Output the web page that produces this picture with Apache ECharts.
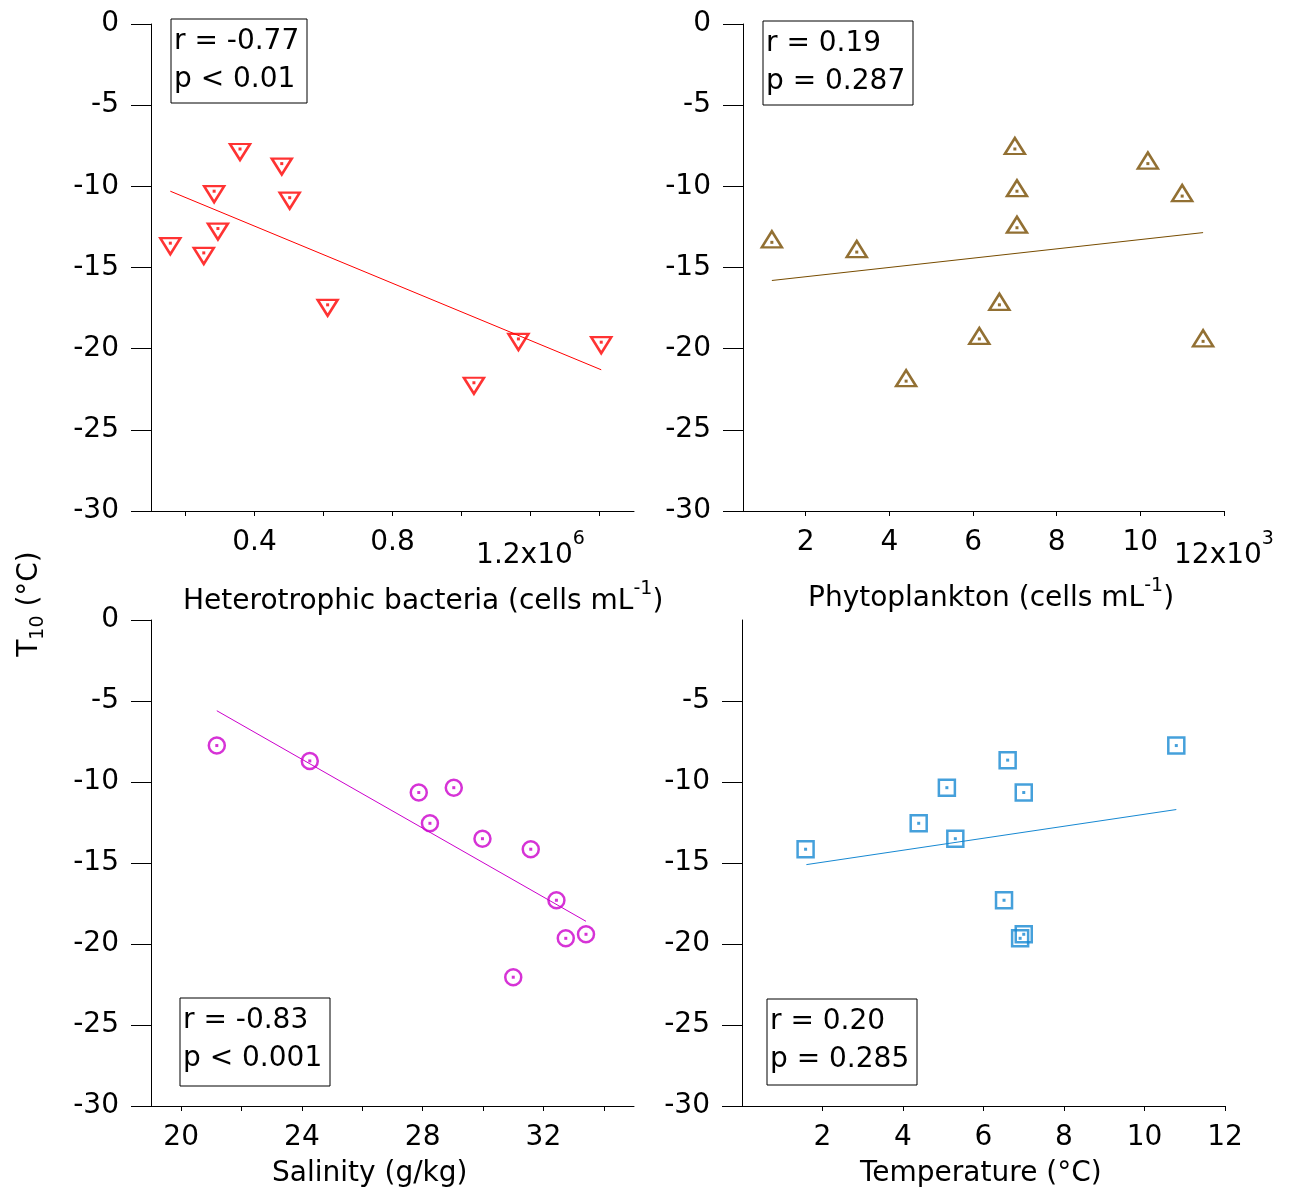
<!DOCTYPE html>
<html>
<head>
<meta charset="utf-8">
<script src="https://cdn.jsdelivr.net/npm/echarts@6/dist/echarts.min.js"></script>
<style>
  html, body { margin: 0; padding: 0; background: #fff; }
  #main { width: 1291px; height: 1194px; }
</style>
</head>
<body>
<div id="main"></div>
<script>
// T10 values, one array per panel
var bactX = [0.156, 0.253, 0.283, 0.294, 0.358, 0.479, 0.502, 0.612, 1.036, 1.165, 1.405];
var bactY = [-13.5, -14.1, -10.3, -12.6, -7.7, -8.6, -10.7, -17.3, -22.1, -19.4, -19.6];
var bactFitX = [0.156, 1.405];
var bactFitY = [-10.3, -21.3];

var phytoX = [1.19, 3.22, 4.40, 6.15, 6.63, 7.0, 7.05, 7.05, 10.18, 11.0, 11.5];
var phytoY = [-13.45, -14.05, -22.0, -19.4, -17.3, -7.7, -10.3, -12.55, -8.6, -10.6, -19.55];
var phytoFitX = [1.19, 11.5];
var phytoFitY = [-15.8, -12.85];

var salX = [21.18, 24.26, 27.87, 29.03, 28.24, 29.98, 31.58, 32.43, 32.74, 33.41, 31.0];
var salY = [-7.75, -8.7, -10.65, -10.35, -12.55, -13.5, -14.15, -17.3, -19.65, -19.4, -22.05];
var salFitX = [21.18, 33.41];
var salFitY = [-5.6, -18.6];

var tempX = [1.58, 4.39, 5.09, 5.30, 6.60, 7.0, 6.51, 6.91, 7.0, 10.79];
var tempY = [-14.15, -12.55, -10.35, -13.5, -8.65, -10.65, -17.3, -19.65, -19.4, -7.75];
var tempFitX = [1.6, 10.79];
var tempFitY = [-15.1, -11.7];

// ticks and labels
var yTicks = [-30, -25, -20, -15, -10, -5, 0];
var yTicksNoZero = [-30, -25, -20, -15, -10, -5];
var bactTicks = [0.2, 0.4, 0.6, 0.8, 1.0, 1.2, 1.4];
var bactLabels = [0.4, 0.8, 1.2];
var phytoTicks = [2, 4, 6, 8, 10, 12];
var salTicks = [20, 22, 24, 26, 28, 30, 32, 34];
var salLabels = [20, 24, 28, 32];
var tempTicks = [2, 4, 6, 8, 10, 12];

var FONT = 'DejaVu Sans';
var FS = 28;

function pairs(xs, ys) {
    var res = [];
    for (var i = 0; i < xs.length; i++) {
        res.push([xs[i], ys[i]]);
    }
    return res;
}

var expRich = {
    e: {fontSize: FS, fontFamily: FONT, color: '#000', lineHeight: 30, padding: [13, 0, 0, 0], verticalAlign: 'top'},
    s: {fontSize: 19, fontFamily: FONT, color: '#000', lineHeight: 20, padding: [1, 0, 0, 0], verticalAlign: 'top'}
};

function xAxisOf(grid, min, max, ticks, labels, expAt, expText, expPow) {
    return {
        type: 'value',
        gridIndex: grid,
        min: min,
        max: max,
        position: 'bottom',
        axisLine: {onZero: false, lineStyle: {color: '#000', width: 1}},
        axisTick: {length: 5, customValues: ticks, lineStyle: {color: '#000', width: 1}},
        splitLine: {show: false},
        axisLabel: {
            customValues: labels,
            margin: 18,
            color: '#000',
            fontSize: FS,
            fontFamily: FONT,
            formatter: function (v) {
                if (expAt !== null && Math.abs(v - expAt) < 1e-9) {
                    return '{e|' + expText + '}{s|' + expPow + '}';
                }
                return String(v);
            },
            rich: expRich
        }
    };
}

function yAxisOf(grid, ticks) {
    return {
        type: 'value',
        gridIndex: grid,
        min: -30,
        max: 0,
        axisLine: {lineStyle: {color: '#000', width: 1}},
        axisTick: {length: 20, customValues: ticks, lineStyle: {color: '#000', width: 1}},
        splitLine: {show: false},
        axisLabel: {customValues: ticks, margin: 32, color: '#000', fontSize: FS, fontFamily: FONT}
    };
}

function panelSeries(idx, xs, ys, fx, fy, color, symbol, size, rot, offset) {
    return [
        {
            type: 'line',
            xAxisIndex: idx, yAxisIndex: idx,
            data: pairs(fx, fy),
            symbol: 'none',
            lineStyle: {color: color, width: 1},
            silent: true
        },
        {
            type: 'scatter',
            xAxisIndex: idx, yAxisIndex: idx,
            data: pairs(xs, ys),
            symbol: symbol,
            symbolSize: size,
            symbolRotate: rot,
            symbolOffset: offset,
            itemStyle: {color: 'rgba(255,255,255,0)', borderColor: color, borderWidth: 2.5},
            silent: true
        },
        {
            type: 'scatter',
            xAxisIndex: idx, yAxisIndex: idx,
            data: pairs(xs, ys),
            symbol: 'rect',
            symbolSize: 3,
            itemStyle: {color: color},
            silent: true
        }
    ];
}

var supRich = {
    n: {fontSize: FS, fontFamily: FONT, fill: '#000', lineHeight: 30, padding: [8, 0, 0, 0], verticalAlign: 'top'},
    s: {fontSize: 19, fontFamily: FONT, fill: '#000', lineHeight: 20, verticalAlign: 'top'}
};
var subRich = {
    n: {fontSize: FS, fontFamily: FONT, fill: '#000', lineHeight: 30, verticalAlign: 'top'},
    b: {fontSize: 19, fontFamily: FONT, fill: '#000', lineHeight: 20, padding: [13, 0, 0, 0], verticalAlign: 'top'}
};

function statBox(x, y, w, h, text) {
    return {
        type: 'group',
        children: [
            {type: 'rect', shape: {x: x, y: y, width: w, height: h}, style: {fill: '#fff', stroke: '#000', lineWidth: 1}},
            {type: 'text', x: x + 3, y: y + 4, style: {text: text, fontSize: FS, fontFamily: FONT, fill: '#000', lineHeight: 38, align: 'left', verticalAlign: 'top'}}
        ]
    };
}

var myChart = echarts.init(document.getElementById('main'));
var option = {
    animation: false,
    backgroundColor: '#fff',
    grid: [
        {left: 151, top: 24, width: 483, height: 487},
        {left: 743, top: 24, width: 481, height: 487},
        {left: 151, top: 620, width: 483, height: 486},
        {left: 742, top: 620, width: 483, height: 486}
    ],
    xAxis: [
        xAxisOf(0, 0.1, 1.5, bactTicks, bactLabels, 1.2, '1.2x10', '6'),
        xAxisOf(1, 0.5, 12, phytoTicks, phytoTicks, 12, '12x10', '3'),
        xAxisOf(2, 19, 35, salTicks, salLabels, null),
        xAxisOf(3, 0, 12, tempTicks, tempTicks, null)
    ],
    yAxis: [
        yAxisOf(0, yTicks),
        yAxisOf(1, yTicks),
        yAxisOf(2, yTicks),
        yAxisOf(3, yTicksNoZero)
    ],
    series: [].concat(
        panelSeries(0, bactX, bactY, bactFitX, bactFitY, '#ff0000', 'triangle', [20, 16], 180, [0, 3]),
        panelSeries(1, phytoX, phytoY, phytoFitX, phytoFitY, '#774c00', 'triangle', [20, 16], 0, [0, -3]),
        panelSeries(2, salX, salY, salFitX, salFitY, '#cc00cc', 'circle', 16, 0, [0, 0]),
        panelSeries(3, tempX, tempY, tempFitX, tempFitY, '#1688d2', 'rect', 16, 0, [0, 0])
    ),
    graphic: [
        {type: 'text', x: 183, y: 580, style: {text: '{n|Heterotrophic bacteria (cells mL}{s|-1}{n|)}', rich: supRich, align: 'left', verticalAlign: 'top'}},
        {type: 'text', x: 808, y: 577, style: {text: '{n|Phytoplankton (cells mL}{s|-1}{n|)}', rich: supRich, align: 'left', verticalAlign: 'top'}},
        {type: 'text', x: 272, y: 1174, style: {text: 'Salinity (g/kg)', fontSize: FS, fontFamily: FONT, fill: '#000', align: 'left', verticalAlign: 'middle'}},
        {type: 'text', x: 860, y: 1174, style: {text: 'Temperature (°C)', fontSize: FS, fontFamily: FONT, fill: '#000', align: 'left', verticalAlign: 'middle'}},
        {type: 'text', x: 31, y: 604, rotation: Math.PI / 2, style: {text: '{n|T}{b|10}{n| (°C)}', rich: subRich, align: 'center', verticalAlign: 'middle'}},
        statBox(171, 19, 136, 84, 'r = -0.77\np < 0.01'),
        statBox(763, 21, 150, 84, 'r = 0.19\np = 0.287'),
        statBox(180, 998, 150, 88, 'r = -0.83\np < 0.001'),
        statBox(767, 999, 150, 86, 'r = 0.20\np = 0.285')
    ]
};
myChart.setOption(option);
</script>
</body>
</html>
